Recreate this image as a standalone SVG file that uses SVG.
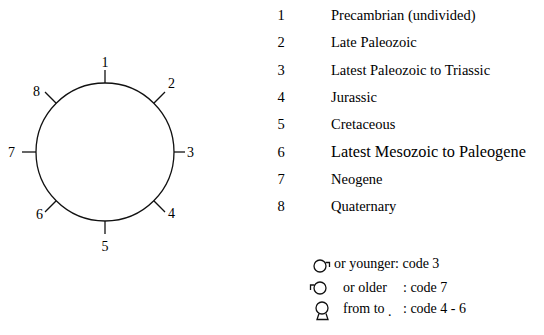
<svg xmlns="http://www.w3.org/2000/svg" width="544" height="335" viewBox="0 0 544 335">
<style>
text{font-family:"Liberation Serif","DejaVu Serif",serif;fill:#000;}
.n{font-size:14px;}
.l{font-size:14.5px;}
.s{font-size:14px;}
.ln{stroke:#111;stroke-width:1.3;fill:none;}
</style>
<rect width="544" height="335" fill="#fff"/>
<g id="clock">
<circle class="ln" cx="105" cy="152" r="69"/>
</g>
<g id="connectors">
<line class="ln" x1="105" y1="83" x2="105" y2="70"/>
<line class="ln" x1="153.8" y1="103.2" x2="165" y2="92"/>
<line class="ln" x1="174" y1="152" x2="185" y2="152"/>
<line class="ln" x1="153.8" y1="200.8" x2="165" y2="212"/>
<line class="ln" x1="105" y1="221" x2="105" y2="234"/>
<line class="ln" x1="56.2" y1="200.8" x2="45" y2="212"/>
<line class="ln" x1="36" y1="152" x2="22" y2="152"/>
<line class="ln" x1="56.2" y1="103.2" x2="45" y2="92"/>
</g>
<g id="tick-labels">
<text class="n" x="105" y="67" text-anchor="middle">1</text>
<text class="n" x="168" y="88">2</text>
<text class="n" x="187" y="157">3</text>
<text class="n" x="168" y="218">4</text>
<text class="n" x="105" y="251" text-anchor="middle">5</text>
<text class="n" x="36" y="219">6</text>
<text class="n" x="8" y="157">7</text>
<text class="n" x="33" y="96">8</text>
</g>
<g id="legend">
<text class="l" x="281" y="20" text-anchor="middle">1</text><text class="l" x="331" y="20">Precambrian (undivided)</text>
<text class="l" x="281" y="47.3" text-anchor="middle">2</text><text class="l" x="331" y="47.3">Late Paleozoic</text>
<text class="l" x="281" y="74.6" text-anchor="middle">3</text><text class="l" x="331" y="74.6">Latest Paleozoic to Triassic</text>
<text class="l" x="281" y="101.9" text-anchor="middle">4</text><text class="l" x="331" y="101.9">Jurassic</text>
<text class="l" x="281" y="129.2" text-anchor="middle">5</text><text class="l" x="331" y="129.2">Cretaceous</text>
<text class="l" x="281" y="156.5" text-anchor="middle">6</text><text class="l" x="331" y="156.5" style="font-size:16.3px">Latest Mesozoic to Paleogene</text>
<text class="l" x="281" y="183.8" text-anchor="middle">7</text><text class="l" x="331" y="183.8">Neogene</text>
<text class="l" x="281" y="211.1" text-anchor="middle">8</text><text class="l" x="331" y="211.1">Quaternary</text>
</g>
<g id="key-younger">
<circle class="ln" cx="320" cy="266" r="6"/>
<polyline class="ln" points="325.5,262.5 329.5,262.5 329.5,267"/>
<text class="s" x="334" y="268">or younger: code 3</text>
</g>
<g id="key-older">
<circle class="ln" cx="320" cy="288" r="6"/>
<polyline class="ln" points="314.5,285 310.5,285 310.5,290"/>
<text class="s" x="343" y="292">or older</text><text class="s" x="403" y="292">: code 7</text>
</g>
<g id="key-range">
<circle class="ln" cx="322" cy="308" r="6"/>
<path class="ln" d="M319,313.5 L317,319.5 L328,319.5 L326,313.5"/>
<text class="s" x="343" y="313">from to</text><text class="s" x="388" y="316">.</text><text class="s" x="403" y="313">: code 4 - 6</text>
</g>
</svg>
